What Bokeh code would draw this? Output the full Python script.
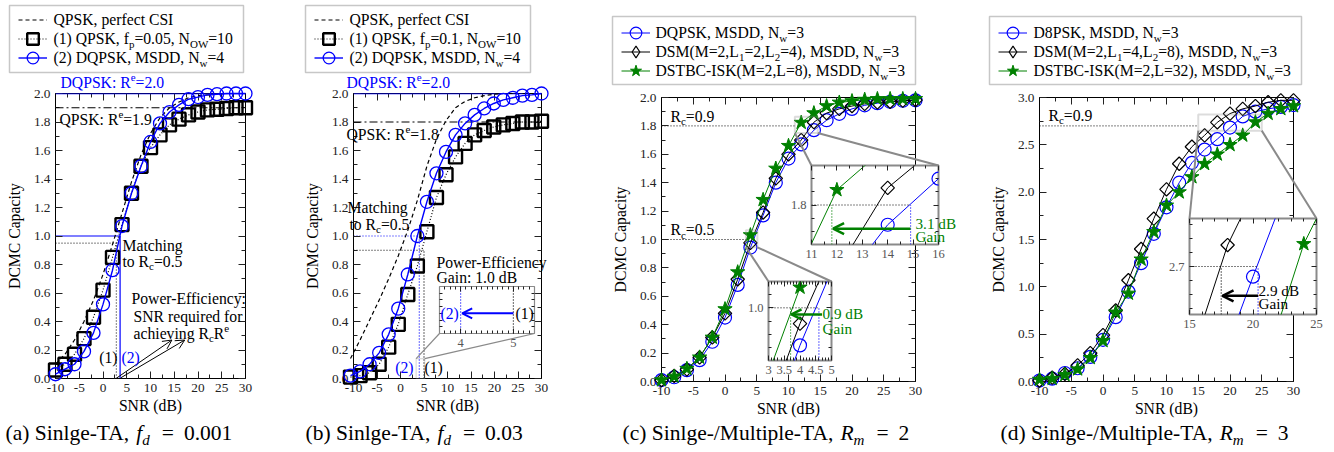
import math
import numpy as np
from bokeh.plotting import figure
from bokeh.models import (Legend, LegendItem, Label, BoxAnnotation, Arrow, OpenHead,
                          LinearAxis, FixedTicker, NumeralTickFormatter, Range1d,
                          GridBox, Span, CustomJSTickFormatter)
from bokeh.embed import file_html
from bokeh.resources import INLINE

# ------------------------------------------------------------------ data
SNR = [-10, -8, -6, -4, -2, 0, 2, 4, 6, 8, 10, 12, 14, 16, 18, 20, 22, 24, 26, 28, 30]

# (a) Single-TA, fd = 0.001
A_QPSK_PERFECT = [0.10, 0.17, 0.27, 0.40, 0.55, 0.73, 0.94, 1.16, 1.38, 1.57, 1.72,
                  1.83, 1.90, 1.94, 1.97, 1.985, 1.99, 1.995, 2.0, 2.0, 2.0]
A_QPSK_PILOT = [0.06, 0.10, 0.17, 0.28, 0.43, 0.62, 0.85, 1.08, 1.30, 1.49, 1.62,
                1.71, 1.78, 1.82, 1.85, 1.87, 1.885, 1.89, 1.895, 1.90, 1.90]
A_DQPSK_MSDD = [0.03, 0.065, 0.10, 0.19, 0.32, 0.52, 0.76, 1.07, 1.30, 1.49, 1.66,
                1.79, 1.87, 1.92, 1.96, 1.975, 1.99, 1.995, 2.0, 2.0, 2.0]

# (b) Single-TA, fd = 0.03
B_QPSK_PERFECT = [0.14, 0.27, 0.41, 0.55, 0.70, 0.86, 1.04, 1.25, 1.49, 1.68, 1.81,
                  1.90, 1.945, 1.97, 1.985, 1.995, 2.0, 2.0, 2.0, 2.0, 2.0]
B_QPSK_PILOT = [0.01, 0.02, 0.04, 0.10, 0.22, 0.38, 0.59, 0.79, 1.03, 1.27, 1.43,
                1.555, 1.65, 1.71, 1.74, 1.765, 1.78, 1.79, 1.80, 1.80, 1.805]
B_DQPSK_MSDD = [0.02, 0.05, 0.10, 0.18, 0.31, 0.49, 0.73, 1.00, 1.24, 1.44, 1.59,
                1.71, 1.79, 1.85, 1.895, 1.93, 1.955, 1.97, 1.985, 1.99, 2.0]

# (c) Single-/Multiple-TA, Rm = 2
C_DQPSK = [0.01, 0.03, 0.08, 0.15, 0.28, 0.45, 0.68, 0.943, 1.17, 1.40, 1.57,
           1.67, 1.77, 1.84, 1.885, 1.92, 1.945, 1.96, 1.97, 1.977, 1.98]
C_DSM = [0.01, 0.04, 0.085, 0.17, 0.31, 0.48, 0.72, 0.976, 1.19, 1.43, 1.60,
         1.70, 1.826, 1.89, 1.92, 1.94, 1.955, 1.965, 1.97, 1.978, 1.982]
C_DSTBC = [0.01, 0.035, 0.09, 0.17, 0.31, 0.51, 0.77, 1.031, 1.28, 1.50, 1.66,
           1.823, 1.89, 1.94, 1.965, 1.975, 1.985, 1.99, 1.99, 1.99, 1.99]

# (d) Single-/Multiple-TA, Rm = 3
D_D8PSK = [0.01, 0.03, 0.09, 0.14, 0.26, 0.44, 0.68, 0.95, 1.25, 1.56, 1.84,
           2.10, 2.31, 2.45, 2.56, 2.682, 2.80, 2.85, 2.88, 2.90, 2.92]
D_DSM = [0.01, 0.04, 0.08, 0.17, 0.30, 0.49, 0.75, 1.07, 1.40, 1.72, 2.03,
         2.30, 2.48, 2.60, 2.738, 2.83, 2.88, 2.91, 2.95, 2.97, 2.97]
D_DSTBC = [0.02, 0.03, 0.07, 0.13, 0.25, 0.43, 0.73, 0.93, 1.29, 1.58, 1.86,
           2.00, 2.16, 2.30, 2.40, 2.50, 2.60, 2.74, 2.83, 2.88, 2.91]

X_TICKS = [-10, -5, 0, 5, 10, 15, 20, 25, 30]
X_MINOR = [-7.5, -2.5, 2.5, 7.5, 12.5, 17.5, 22.5, 27.5]
X_LABELS = {-10: "-10", -5: "-5"}
Y2_TICKS = [0.0, 0.2, 0.4, 0.6, 0.8, 1.0, 1.2, 1.4, 1.6, 1.8, 2.0]
Y2_MINOR = [0.1, 0.3, 0.5, 0.7, 0.9, 1.1, 1.3, 1.5, 1.7, 1.9]
Y3_TICKS = [0.0, 0.5, 1.0, 1.5, 2.0, 2.5, 3.0]
Y3_MINOR = [0.25, 0.75, 1.25, 1.75, 2.25, 2.75]

# reference levels and operating points
A_RE = [2.0, 1.9]            # DQPSK, QPSK
B_RE = [2.0, 1.8]
A_OP_SNR = [2.8, 3.6]        # (1) QPSK, (2) DQPSK
A_OP_RATE = [0.95, 1.0]
B_OP_SNR = [5.0, 4.0]
B_OP_RATE = [0.9, 1.0]
C_RC_RATE = [1.0, 1.8]
C_RC_END = [3.4, 11.0]
C1_OP_SNR = [11.8, 14.9]     # DSTBC, DQPSK at 1.8
C2_OP_SNR = [3.7, 4.6]       # DSTBC, DQPSK at 1.0
D_RC_RATE = 2.7
D_RC_END = 15.0
D_OP_SNR = [17.5, 20.4]      # DSM, D8PSK at 2.7

# inset (zoom) ranges and their marker boxes in the main plots
IB_RANGE = (3.6, 5.4, 0.0, 0.14)
IC1_RANGE = (11.0, 16.0, 1.74, 1.86)
IC2_RANGE = (3.0, 5.0, 0.92, 1.04)
ID_RANGE = (15.0, 25.0, 2.615, 2.785)
B_BOX = (3.75, 5.55, 0.0, 0.14)
C1_BOX = (11.0, 14.6, 1.75, 1.865)
C2_BOX = (3.3, 5.1, 0.945, 1.065)
D_BOX = (15.0, 25.0, 2.65, 2.82)

# ------------------------------------------------------------------ style
FONT = "Liberation Serif"
BLUE = "#0000ff"
GREEN = "#008000"
GRAY = "#8a8a8a"
FS = 15.7
H = 452
BASE_SHIFT = 0.34     # label anchor -> baseline correction (em)

WN = {' ': 250, '!': 333, '(': 333, ')': 333, ',': 250, '-': 333, '.': 250, '/': 278,
      ':': 278, '=': 564, '+': 564}
for _d in '0123456789':
    WN[_d] = 500
WN.update(dict(A=722, B=667, C=667, D=722, E=611, F=556, G=722, H=722, I=333, J=389, K=722,
               L=611, M=889, N=722, O=722, P=556, Q=722, R=667, S=556, T=611, U=722, V=722,
               W=944, X=722, Y=722, Z=611))
WN.update(dict(a=444, b=500, c=444, d=500, e=444, f=333, g=500, h=500, i=278, j=278, k=500,
               l=278, m=778, n=500, o=500, p=500, q=500, r=333, s=389, t=278, u=500, v=500,
               w=722, x=500, y=500, z=444))
WI = dict(f=278, d=500, R=611, m=722)


def tw(s, size, italic=False):
    tot = 0
    for ch in s:
        if italic and ch in WI:
            tot += WI[ch]
        else:
            tot += WN.get(ch, 500)
    return tot * size / 1000.0


class Frame:
    def __init__(self, L, R, T, B, x0, x1, y0, y1):
        self.L, self.R, self.T, self.B = L, R, T, B
        self.x0, self.x1, self.y0, self.y1 = x0, x1, y0, y1

    def to_data(self, X, Y):
        return (self.x0 + (X - self.L) / (self.R - self.L) * (self.x1 - self.x0),
                self.y0 + (self.B - Y) / (self.B - self.T) * (self.y1 - self.y0))


def rich(p, F, X, Y, parts, size, color, align="left"):
    items = []
    for t, k in parts:
        if k == "gap":
            items.append((None, float(t), 0.0, size, "normal"))
            continue
        italic = k in ("i", "isub")
        if k in ("sub", "isub"):
            fs, dy = size * 0.7, -0.22 * size
        elif k == "sup":
            fs, dy = size * 0.7, 0.42 * size
        else:
            fs, dy = size, 0.0
        items.append((t, tw(t, fs, italic), dy, fs, "italic" if italic else "normal"))
    total = sum(it[1] for it in items)
    if align == "right":
        X = X - total
    elif align == "center":
        X = X - total / 2
    xd, yd = F.to_data(X, Y)
    off = 0.0
    for t, w, dy, fs, st in items:
        if t is not None:
            p.add_layout(Label(x=xd, y=yd, x_offset=off, y_offset=dy + BASE_SHIFT * fs, text=t,
                               text_font=FONT, text_font_size=f"{fs:.2f}px",
                               text_font_style=st, text_color=color,
                               text_baseline="alphabetic", text_align="left"))
        off += w


def style_ax(ax, labels=True, size="13.3px", color="#222222", tin=7, tmin=4, line="black"):
    ax.major_tick_in = tin
    ax.major_tick_out = 0
    ax.minor_tick_in = tmin
    ax.minor_tick_out = 0
    ax.major_tick_line_color = "#222222"
    ax.minor_tick_line_color = "#222222"
    ax.axis_line_color = line
    ax.major_label_text_font = FONT
    ax.major_label_text_color = color
    ax.major_label_text_font_size = size if labels else "0px"
    ax.major_label_standoff = 5 if labels else 0
    ax.axis_label_text_font = FONT
    ax.axis_label_text_font_style = "normal"
    ax.axis_label_text_font_size = f"{FS}px"
    ax.axis_label_text_color = "black"
    if not labels:
        ax.formatter = CustomJSTickFormatter(code="return ''")


def main_fig(F, fx0, fx1, yt, ytm):
    p = figure(width=fx1 - fx0, height=H, x_range=Range1d(F.x0, F.x1),
               y_range=Range1d(F.y0, F.y1), output_backend="svg", toolbar_location=None,
               title=None, frame_align=False,
               min_border_left=F.L - fx0, min_border_right=fx1 - F.R,
               min_border_top=F.T, min_border_bottom=H - F.B,
               x_axis_label="SNR (dB)", y_axis_label="DCMC Capacity")
    p.grid.visible = False
    p.outline_line_color = "black"
    p.outline_line_width = 1
    xtk = FixedTicker(ticks=X_TICKS, minor_ticks=X_MINOR)
    ytk = FixedTicker(ticks=yt, minor_ticks=ytm)
    p.xaxis.ticker = xtk
    p.yaxis.ticker = ytk
    p.yaxis.formatter = NumeralTickFormatter(format="0.0")
    p.xaxis.major_label_overrides = X_LABELS
    style_ax(p.xaxis[0])
    style_ax(p.yaxis[0])
    p.xaxis.axis_label_standoff = 2
    p.yaxis.axis_label_standoff = 8
    for loc, tk in (("above", xtk), ("right", ytk)):
        ax = LinearAxis(ticker=tk)
        style_ax(ax, labels=False)
        p.add_layout(ax, loc)
    return p


def layer_fig(F, fx0, fx1):
    """transparent figure whose frame is the whole cell, same data->pixel mapping as F"""
    dx = (F.x1 - F.x0) / (F.R - F.L)
    dy = (F.y1 - F.y0) / (F.B - F.T)
    p = figure(width=fx1 - fx0, height=H, title=None, frame_align=False,
               x_range=Range1d(F.x0 - (F.L - fx0) * dx, F.x1 + (fx1 - F.R) * dx),
               y_range=Range1d(F.y0 - (H - F.B) * dy, F.y1 + F.T * dy),
               x_axis_location=None, y_axis_location=None,
               output_backend="svg", toolbar_location=None, min_border=0,
               min_border_left=0, min_border_right=0, min_border_top=0, min_border_bottom=0)
    p.grid.visible = False
    p.outline_line_color = None
    p.background_fill_color = None
    p.border_fill_color = None
    return p


def inset_fig(F, bl, br, bt, bb, xt, xtm, yt, ytm, ylab, ow, xover=None):
    p = figure(width=F.R - F.L + bl + br, height=F.B - F.T + bt + bb, title=None,
               frame_align=False,
               x_range=Range1d(F.x0, F.x1), y_range=Range1d(F.y0, F.y1),
               output_backend="svg", toolbar_location=None,
               min_border_left=bl, min_border_right=br, min_border_top=bt, min_border_bottom=bb)
    p.grid.visible = False
    p.border_fill_color = None
    p.background_fill_color = "white"
    p.outline_line_color = GRAY
    p.outline_line_width = ow
    xtk = FixedTicker(ticks=xt, minor_ticks=xtm)
    ytk = FixedTicker(ticks=yt, minor_ticks=ytm)
    p.xaxis.ticker = xtk
    p.yaxis.ticker = ytk
    p.yaxis.formatter = NumeralTickFormatter(format="0.0")
    if xover:
        p.xaxis.major_label_overrides = xover
    style_ax(p.xaxis[0], True, "12.5px", "#555555", 5, 3, None)
    style_ax(p.yaxis[0], ylab, "12.5px", "#555555", 5, 3, None)
    for loc, tk in (("above", xtk), ("right", ytk)):
        ax = LinearAxis(ticker=tk)
        style_ax(ax, False, "12.5px", "#555555", 5, 3, None)
        p.add_layout(ax, loc)
    return p


def series(p, x, y, color, marker, size, lw_line, lw_marker, dash="solid", fill=None, angle=0.0):
    rl = p.line(x, y, line_color=color, line_width=lw_line, line_dash=dash)
    rm = p.scatter(x, y, marker=marker, size=size, angle=angle, fill_color=fill,
                   line_color=color, line_width=lw_marker)
    return [rl, rm]


def add_legend(layer, fx0, renderer_groups, glyph_left, row1):
    """one single-row legend per entry so that rows can be closer than the glyph box"""
    for i, g in enumerate(renderer_groups):
        centre = row1 + 19 * i
        bottom = centre + 16.5
        leg = Legend(items=[LegendItem(label=" ", renderers=g)],
                     location=(glyph_left - fx0, H - bottom), orientation="vertical",
                     padding=0, margin=0, spacing=0, glyph_width=29, glyph_height=33,
                     label_standoff=0, label_width=1, label_height=20,
                     label_text_font_size="1px", border_line_color=None,
                     background_fill_color=None, inactive_fill_alpha=0)
        layer.add_layout(leg)


def legend_text(p, F, box, text_x, row1, rows):
    for i, parts in enumerate(rows):
        rich(p, F, text_x, row1 + 19 * i + 5.5, parts, FS, "black")
    l, t = F.to_data(box[0], box[1])
    r, b = F.to_data(box[2], box[3])
    p.add_layout(BoxAnnotation(left=l, right=r, top=t, bottom=b, fill_color=None,
                               line_color="#444444", line_width=1.5))


def zoom_box(p, box, lw):
    p.add_layout(BoxAnnotation(left=box[0], right=box[1], bottom=box[2], top=box[3],
                               fill_color=None, line_color=GRAY, line_width=lw))


def connector(p, F, x, y, X, Y, lw):
    xe, ye = F.to_data(X, Y)
    p.add_layout(Arrow(x_start=x, y_start=y, x_end=xe, y_end=ye, start=None, end=None,
                       line_color=GRAY, line_width=lw))


def caption(p, F, X, tag, text, sym, sub, val):
    rich(p, F, X, 440, [(f"({tag}) {text}, ", "n"), (sym, "i"), (sub, "isub"), (12, "gap"),
                        ("=", "n"), (10, "gap"), (val, "n")], 21.5, "black")


bottom_cells, inset_cells, top_cells = [], [], []

# ================================================================== (a)
FA = Frame(55, 245, 93, 378, -10, 30, 0, 2)
pa = main_fig(FA, 0, 300, Y2_TICKS, Y2_MINOR)
pa.add_layout(Span(location=A_RE[0], dimension="width", line_color=BLUE, line_width=1.5))
pa.add_layout(Span(location=A_RE[1], dimension="width", line_color="black", line_width=1,
                   line_dash="8 3 2 3"))
pa.segment(x0=[-10, A_OP_SNR[1]], y0=[A_OP_RATE[1], 0], x1=[A_OP_SNR[1]] * 2,
           y1=[A_OP_RATE[1]] * 2, line_color=BLUE, line_width=1.2)
pa.segment(x0=[-10, A_OP_SNR[0]], y0=[A_OP_RATE[0], 0], x1=[A_OP_SNR[0]] * 2,
           y1=[A_OP_RATE[0]] * 2, line_color="black", line_width=1, line_dash="1 2")

sa = layer_fig(FA, 0, 300)
ra1 = sa.line(SNR, A_QPSK_PERFECT, line_color="black", line_dash="4 3", line_width=1.2)
ra2 = series(sa, SNR, A_QPSK_PILOT, "black", "square", 13, 1.2, 2.4, dash="1 2")
ra3 = series(sa, SNR, A_DQPSK_MSDD, BLUE, "circle", 13, 1.4, 1.3)
add_legend(sa, 0, [[ra1], ra2, ra3], 18, 19.3)

ta = layer_fig(FA, 0, 300)
for xs_, xe_ in zip(A_OP_SNR, [14.5, 17.2]):
    ta.add_layout(Arrow(x_start=xs_ + 0.15, y_start=0.005, x_end=xe_, y_end=0.27,
                        line_color="black", line_width=1,
                        end=OpenHead(size=9, line_color="black", line_width=1)))
for X, Y, parts, col, al in [
        (60, 87.5, [("DQPSK: R", "n"), ("e", "sup"), ("=2.0", "n")], BLUE, "left"),
        (59, 124, [("QPSK: R", "n"), ("e", "sup"), ("=1.9", "n")], "black", "left"),
        (122, 250, [("Matching", "n")], "black", "left"),
        (122, 266, [("to R", "n"), ("c", "sub"), ("=0.5", "n")], "black", "left"),
        (131, 303, [("Power-Efficiency:", "n")], "black", "left"),
        (133, 321, [("SNR required for", "n")], "black", "left"),
        (133, 338, [("achieving R", "n"), ("c", "sub"), ("R", "n"), ("e", "sup")], "black", "left"),
        (117, 362, [("(1)", "n")], "black", "right"),
        (121, 362, [("(2)", "n")], BLUE, "left")]:
    rich(ta, FA, X, Y, parts, FS, col, al)
legend_text(ta, FA, (9, 5, 243, 72), 53, 19.3, [
    [("QPSK, perfect CSI", "n")],
    [("(1) QPSK, f", "n"), ("p", "sub"), ("=0.05, N", "n"), ("OW", "sub"), ("=10", "n")],
    [("(2) DQPSK, MSDD, N", "n"), ("w", "sub"), ("=4", "n")]])
caption(ta, FA, 5, "a", "Sinlge-TA", "f", "d", "0.001")
bottom_cells += [(pa, 0, 0, 300, H), (sa, 0, 0, 300, H)]
top_cells.append((ta, 0, 0, 300, H))

# ================================================================== (b)
FB = Frame(350, 541, 93, 378, -10, 30, 0, 2)
pb = main_fig(FB, 300, 608, Y2_TICKS, Y2_MINOR)
pb.add_layout(Span(location=B_RE[0], dimension="width", line_color=BLUE, line_width=1.5))
pb.add_layout(Span(location=B_RE[1], dimension="width", line_color="black", line_width=1,
                   line_dash="8 3 2 3"))
pb.segment(x0=[-10, B_OP_SNR[1]], y0=[B_OP_RATE[1], 0], x1=[B_OP_SNR[1]] * 2,
           y1=[B_OP_RATE[1]] * 2, line_color=BLUE, line_width=1.2, line_dash="1 2")
pb.segment(x0=[-10, B_OP_SNR[0]], y0=[B_OP_RATE[0], 0], x1=[B_OP_SNR[0]] * 2,
           y1=[B_OP_RATE[0]] * 2, line_color="black", line_width=1.2, line_dash="1 2")

sb = layer_fig(FB, 300, 608)
rb1 = sb.line(SNR, B_QPSK_PERFECT, line_color="black", line_dash="4 3", line_width=1.2)
rb2 = series(sb, SNR, B_QPSK_PILOT, "black", "square", 13, 1.2, 2.4, dash="1 2")
rb3 = series(sb, SNR, B_DQPSK_MSDD, BLUE, "circle", 13, 1.4, 1.3)
add_legend(sb, 300, [[rb1], rb2, rb3], 314, 19.3)

tb = layer_fig(FB, 300, 608)
zoom_box(tb, B_BOX, 1.2)
connector(tb, FB, B_BOX[0], B_BOX[3], 439, 333, 1.2)
connector(tb, FB, B_BOX[1], B_BOX[3], 534, 333, 1.2)
for X, Y, parts, col, al in [
        (346, 87.5, [("DQPSK: R", "n"), ("e", "sup"), ("=2.0", "n")], BLUE, "left"),
        (346, 139, [("QPSK: R", "n"), ("e", "sup"), ("=1.8", "n")], "black", "left"),
        (347, 212, [("Matching", "n")], "black", "left"),
        (349, 229, [("to R", "n"), ("c", "sub"), ("=0.5", "n")], "black", "left"),
        (436, 267, [("Power-Efficiency", "n")], "black", "left"),
        (436, 282, [("Gain: 1.0 dB", "n")], "black", "left"),
        (413, 372, [("(2)", "n")], BLUE, "right"),
        (424, 372, [("(1)", "n")], "black", "left"),
        (440, 318, [("(2)", "n")], BLUE, "left"),
        (515, 318, [("(1)", "n")], "black", "left")]:
    rich(tb, FB, X, Y, parts, FS, col, al)
legend_text(tb, FB, (305, 5, 530, 72), 349, 19.3, [
    [("QPSK, perfect CSI", "n")],
    [("(1) QPSK, f", "n"), ("p", "sub"), ("=0.1, N", "n"), ("OW", "sub"), ("=10", "n")],
    [("(2) DQPSK, MSDD, N", "n"), ("w", "sub"), ("=4", "n")]])
caption(tb, FB, 305, "b", "Sinlge-TA", "f", "d", "0.03")
bottom_cells += [(pb, 300, 0, 608, H), (sb, 300, 0, 608, H)]
top_cells.append((tb, 300, 0, 608, H))

FIB = Frame(439, 534, 286, 333, *IB_RANGE)
ib = inset_fig(FIB, 5, 5, 8, 24, [4, 5], np.round(np.arange(3.7, 5.4, 0.1), 2).tolist(),
               [], [0.02, 0.04, 0.06, 0.08, 0.10, 0.12], False, 1.2)
ib.segment(x0=B_OP_SNR, y0=[0, 0], x1=B_OP_SNR, y1=B_OP_RATE, line_color=["black", BLUE],
           line_width=1.2, line_dash="1 2")
ib.add_layout(Arrow(x_start=B_OP_SNR[0], y_start=0.06, x_end=B_OP_SNR[1] + 0.03, y_end=0.06,
                    line_color=BLUE, line_width=2,
                    end=OpenHead(size=10, line_color=BLUE, line_width=2)))
inset_cells.append((ib, FIB, 5, 5, 8, 24))

# ================================================================== (c)
FC = Frame(661, 915, 97, 381, -10, 30, 0, 2)
pc = main_fig(FC, 608, 985, Y2_TICKS, Y2_MINOR)
pc.segment(x0=[-10, -10], y0=C_RC_RATE, x1=C_RC_END, y1=C_RC_RATE, line_color="black",
           line_width=1, line_dash="1 2")


def draw_c(p):
    g1 = series(p, SNR, C_DQPSK, BLUE, "circle", 13, 1.0, 1.2)
    g2 = series(p, SNR, C_DSM, "black", "square", 9.5, 1.0, 1.2, angle=math.pi / 4)
    g3 = series(p, SNR, C_DSTBC, GREEN, "star", 15, 1.0, 1.0, fill=GREEN)
    return g1, g2, g3


def diamond_proxy(p, y):
    return p.scatter(SNR, y, marker="diamond", size=14, fill_color=None, line_color="black",
                     line_width=1.2, visible=False)


sc = layer_fig(FC, 608, 985)
gc1, gc2, gc3 = draw_c(sc)
add_legend(sc, 608, [gc1, [gc2[0], diamond_proxy(sc, C_DSM)], gc3], 621, 32.3)

tc = layer_fig(FC, 608, 985)
zoom_box(tc, C1_BOX, 2)
zoom_box(tc, C2_BOX, 2)
connector(tc, FC, C1_BOX[0], C1_BOX[2], 811, 165, 2)
connector(tc, FC, C1_BOX[1], C1_BOX[2], 938, 165, 2)
connector(tc, FC, C2_BOX[0], C2_BOX[2], 768, 281, 2)
connector(tc, FC, C2_BOX[1], C2_BOX[2], 831, 281, 2)
rich(tc, FC, 670, 121, [("R", "n"), ("c", "sub"), ("=0.9", "n")], FS, "black")
rich(tc, FC, 670, 234.5, [("R", "n"), ("c", "sub"), ("=0.5", "n")], FS, "black")
rich(tc, FC, 915, 228.5, [("3.1 dB", "n")], 15.2, GREEN)
rich(tc, FC, 915, 241, [("Gain", "n")], 15.2, GREEN)
rich(tc, FC, 822, 318.5, [("0.9 dB", "n")], 15.2, GREEN)
rich(tc, FC, 822, 333.5, [("Gain", "n")], 15.2, GREEN)
legend_text(tc, FC, (612, 16, 915, 84), 655, 32.3, [
    [("DQPSK, MSDD, N", "n"), ("w", "sub"), ("=3", "n")],
    [("DSM(M=2,L", "n"), ("1", "sub"), ("=2,L", "n"), ("2", "sub"), ("=4), MSDD, N", "n"),
     ("w", "sub"), ("=3", "n")],
    [("DSTBC-ISK(M=2,L=8), MSDD, N", "n"), ("w", "sub"), ("=3", "n")]])
caption(tc, FC, 622, "c", "Sinlge-/Multiple-TA", "R", "m", "2")
bottom_cells += [(pc, 608, 0, 985, H), (sc, 608, 0, 985, H)]
top_cells.append((tc, 608, 0, 985, H))

FIC1 = Frame(811, 938, 165, 244, *IC1_RANGE)
ic1 = inset_fig(FIC1, 30, 25, 8, 24, [11, 12, 13, 14, 15, 16],
                [11.5, 12.5, 13.5, 14.5, 15.5], [1.8], [1.76, 1.78, 1.82, 1.84], True, 2)
draw_c(ic1)
ic1.segment(x0=[IC1_RANGE[0]], y0=[C_RC_RATE[1]], x1=[C1_OP_SNR[1]], y1=[C_RC_RATE[1]],
            line_color="black", line_width=1, line_dash="1 2")
ic1.segment(x0=C1_OP_SNR, y0=[IC1_RANGE[2]] * 2, x1=C1_OP_SNR, y1=[C_RC_RATE[1]] * 2,
            line_color=[GREEN, BLUE], line_width=1.2, line_dash="1 2")
ic1.add_layout(Arrow(x_start=C1_OP_SNR[1], y_start=1.764, x_end=C1_OP_SNR[0] + 0.05,
                     y_end=1.764, line_color=GREEN, line_width=2.5,
                     end=OpenHead(size=11, line_color=GREEN, line_width=2.5)))
inset_cells.append((ic1, FIC1, 30, 25, 8, 24))

FIC2 = Frame(768, 831, 281, 360, *IC2_RANGE)
ic2 = inset_fig(FIC2, 30, 42, 8, 24, [3, 3.5, 4, 4.5, 5],
                np.round(np.arange(3.1, 5.0, 0.1), 2).tolist(), [1.0],
                [0.94, 0.96, 0.98, 1.02], True, 2, xover={3: "3", 4: "4", 5: "5"})
draw_c(ic2)
ic2.segment(x0=[IC2_RANGE[0]], y0=[C_RC_RATE[0]], x1=[C2_OP_SNR[1]], y1=[C_RC_RATE[0]],
            line_color="black", line_width=1, line_dash="1 2")
ic2.segment(x0=C2_OP_SNR, y0=[IC2_RANGE[2]] * 2, x1=C2_OP_SNR, y1=[C_RC_RATE[0]] * 2,
            line_color=[GREEN, BLUE], line_width=1.2, line_dash="1 2")
ic2.add_layout(Arrow(x_start=C2_OP_SNR[1] + 0.1, y_start=0.99, x_end=C2_OP_SNR[0] + 0.03,
                     y_end=0.99, line_color=GREEN, line_width=2.5,
                     end=OpenHead(size=10, line_color=GREEN, line_width=2.5)))
inset_cells.append((ic2, FIC2, 30, 42, 8, 24))

# ================================================================== (d)
FD = Frame(1039, 1293, 97, 381, -10, 30, 0, 3)
pd_ = main_fig(FD, 985, 1334, Y3_TICKS, Y3_MINOR)
pd_.segment(x0=[-10], y0=[D_RC_RATE], x1=[D_RC_END], y1=[D_RC_RATE], line_color="black",
            line_width=1, line_dash="1 2")


def draw_d(p):
    g1 = series(p, SNR, D_D8PSK, BLUE, "circle", 13, 1.0, 1.2)
    g2 = series(p, SNR, D_DSM, "black", "square", 9.5, 1.0, 1.2, angle=math.pi / 4)
    g3 = series(p, SNR, D_DSTBC, GREEN, "star", 15, 1.0, 1.0, fill=GREEN)
    return g1, g2, g3


sd = layer_fig(FD, 985, 1334)
gd1, gd2, gd3 = draw_d(sd)
add_legend(sd, 985, [gd1, [gd2[0], diamond_proxy(sd, D_DSM)], gd3], 998, 32.3)

td = layer_fig(FD, 985, 1334)
zoom_box(td, D_BOX, 2)
connector(td, FD, D_BOX[0], D_BOX[2], 1189, 218, 2)
connector(td, FD, D_BOX[1], D_BOX[2], 1316, 218, 2)
rich(td, FD, 1048, 120, [("R", "n"), ("c", "sub"), ("=0.9", "n")], FS, "black")
rich(td, FD, 1258, 295, [("2.9 dB", "n")], 15.2, "black")
rich(td, FD, 1258, 308.5, [("Gain", "n")], 15.2, "black")
legend_text(td, FD, (989, 16, 1301, 84), 1033, 32.3, [
    [("D8PSK, MSDD, N", "n"), ("w", "sub"), ("=3", "n")],
    [("DSM(M=2,L", "n"), ("1", "sub"), ("=4,L", "n"), ("2", "sub"), ("=8), MSDD, N", "n"),
     ("w", "sub"), ("=3", "n")],
    [("DSTBC-ISK(M=2,L=32), MSDD, N", "n"), ("w", "sub"), ("=3", "n")]])
caption(td, FD, 1000, "d", "Sinlge-/Multiple-TA", "R", "m", "3")
bottom_cells += [(pd_, 985, 0, 1334, H), (sd, 985, 0, 1334, H)]
top_cells.append((td, 985, 0, 1334, H))

FID = Frame(1189, 1316, 218, 314, *ID_RANGE)
idd = inset_fig(FID, 30, 12, 8, 24, [15, 20, 25], [16, 17, 18, 19, 21, 22, 23, 24], [2.7],
                [2.625, 2.65, 2.675, 2.725, 2.75, 2.775], True, 2)
draw_d(idd)
idd.segment(x0=[ID_RANGE[0]], y0=[D_RC_RATE], x1=[D_OP_SNR[1]], y1=[D_RC_RATE],
            line_color="black", line_width=1, line_dash="1 2")
idd.segment(x0=D_OP_SNR, y0=[ID_RANGE[2]] * 2, x1=D_OP_SNR, y1=[D_RC_RATE] * 2,
            line_color=["black", BLUE], line_width=1.2, line_dash="1 2")
idd.add_layout(Arrow(x_start=D_OP_SNR[1], y_start=2.648, x_end=D_OP_SNR[0] + 0.1, y_end=2.648,
                     line_color="black", line_width=2.5,
                     end=OpenHead(size=11, line_color="black", line_width=2.5)))
inset_cells.append((idd, FID, 30, 12, 8, 24))

# ------------------------------------------------------------------ grid assembly
cells = list(bottom_cells)
for fig_, F_, bl, br, bt, bb in inset_cells:
    cells.append((fig_, F_.L - bl, F_.T - bt, F_.R + br, F_.B + bb))
cells += top_cells

xs = sorted({c[1] for c in cells} | {c[3] for c in cells})
ys = sorted({c[2] for c in cells} | {c[4] for c in cells})
children = [(f, ys.index(y0), xs.index(x0), ys.index(y1) - ys.index(y0), xs.index(x1) - xs.index(x0))
            for f, x0, y0, x1, y1 in cells]
grid = GridBox(children=children,
               rows=[f"{ys[i + 1] - ys[i]}px" for i in range(len(ys) - 1)],
               cols=[f"{xs[i + 1] - xs[i]}px" for i in range(len(xs) - 1)],
               spacing=0)

open("out.html", "w").write(file_html(grid, INLINE))
